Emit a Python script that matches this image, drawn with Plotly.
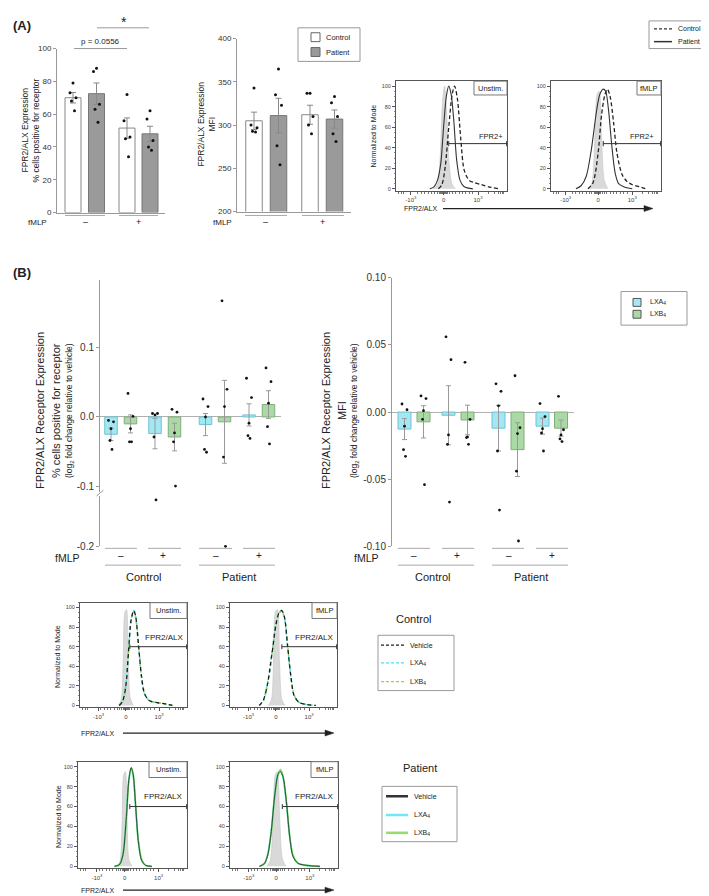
import plotly.graph_objects as go

W, H = 709, 896
FONT = "Liberation Sans, Arial, sans-serif"

# ======================= DATA =======================
FMLP_LABELS = ["–", "+"]
GROUP_LABELS = ["Control", "Patient"]
TREAT_LABELS = ["LXA<sub>4</sub>", "LXB<sub>4</sub>"]

# (A) left: % cells positive for receptor  (index: fMLP -, fMLP +)
A_PCT_CONTROL_MEAN = [70.0, 51.5]
A_PCT_CONTROL_SEM = [3.2, 6.2]
A_PCT_PATIENT_MEAN = [72.5, 48.0]
A_PCT_PATIENT_SEM = [6.5, 4.6]
A_PCT_CONTROL_PTS = [[79, 73, 70, 68, 62], [72, 56, 46, 45, 34]]
A_PCT_PATIENT_PTS = [[88, 86, 66, 63, 55], [62, 57, 44, 40, 38]]
A_PCT_TICKS = [0, 20, 40, 60, 80, 100]
A_PCT_PVALUE = "p = 0.0556"
A_PCT_STAR = "*"

# (A) middle: MFI
A_MFI_CONTROL_MEAN = [305, 312]
A_MFI_CONTROL_SEM = [10, 11]
A_MFI_PATIENT_MEAN = [311, 307]
A_MFI_PATIENT_SEM = [20, 10.5]
A_MFI_CONTROL_PTS = [[343, 300, 297, 293, 292], [337, 337, 310, 300, 290]]
A_MFI_PATIENT_PTS = [[365, 335, 323, 276, 254], [333, 326, 310, 290, 281]]
A_MFI_TICKS = [200, 250, 300, 350, 400]

# (B) order: Control fMLP-, Control fMLP+, Patient fMLP-, Patient fMLP+
B_PCT_LXA_MEAN = [-0.025, -0.024, -0.011, 0.003]
B_PCT_LXA_SEM = [0.009, 0.022, 0.016, 0.016]
B_PCT_LXB_MEAN = [-0.010, -0.029, -0.007, 0.018]
B_PCT_LXB_SEM = [0.013, 0.020, 0.060, 0.020]
B_PCT_LXA_PTS = [[-0.005, -0.007, -0.017, -0.034, -0.047],
                 [0.005, 0.005, 0.003, -0.029, -0.117],
                 [0.026, 0.015, 0.000, -0.047, -0.051],
                 [0.056, 0.028, -0.009, -0.027, -0.031]]
B_PCT_LXB_PTS = [[0.034, 0.001, -0.017, -0.036, -0.036],
                 [0.011, 0.007, -0.023, -0.036, -0.100],
                 [0.168, 0.040, 0.015, -0.058, -0.200],
                 [0.071, 0.051, 0.020, -0.014, -0.039]]
B_PCT_TICKS_UPPER = [-0.1, 0.0, 0.1, 0.2]
B_PCT_TICKS_LOWER = [-0.2]

B_MFI_LXA_MEAN = [-0.0127, -0.0024, -0.0120, -0.0105]
B_MFI_LXA_SEM = [0.0078, 0.0220, 0.0170, 0.0060]
B_MFI_LXB_MEAN = [-0.0073, -0.0059, -0.0280, -0.0120]
B_MFI_LXB_SEM = [0.0120, 0.0110, 0.0200, 0.0060]
B_MFI_LXA_PTS = [[0.0060, 0.0017, -0.0105, -0.0280, -0.0330],
                 [0.0560, 0.0390, -0.0170, -0.0240, -0.0670],
                 [0.0210, 0.0154, 0.0046, -0.0290, -0.0730],
                 [0.0063, -0.0034, -0.0124, -0.0156, -0.0290]]
B_MFI_LXB_PTS = [[0.0120, 0.0100, 0.0010, -0.0054, -0.0541],
                 [0.0370, -0.0054, -0.0185, -0.0190, -0.0240],
                 [0.0270, -0.0117, -0.0160, -0.0440, -0.0960],
                 [0.0117, -0.0132, -0.0170, -0.0200, -0.0220]]
B_MFI_TICKS = [-0.10, -0.05, 0.0, 0.05, 0.10]

# Histograms (x in biexponential display units: 0 -> 0, 1 -> 10^3 ; y = % of mode)
HIST_Y_TICKS = [0, 20, 40, 60, 80, 100]
HIST_X_TICKTEXT = ["-10<sup>3</sup>", "0", "10<sup>3</sup>"]

HA_UNSTIM_ISO_X = [-0.3, -0.18, -0.1, -0.03, 0.03, 0.09, 0.16, 0.25, 0.35]
HA_UNSTIM_ISO_Y = [0, 4, 30, 85, 100, 75, 25, 4, 0]
HA_UNSTIM_PAT_X = [-0.4, -0.28, -0.18, -0.08, 0.0, 0.08, 0.15, 0.22, 0.3, 0.38, 0.48, 0.6, 0.85]
HA_UNSTIM_PAT_Y = [0, 2, 8, 25, 60, 90, 100, 92, 65, 28, 8, 2, 0]
HA_UNSTIM_CTL_X = [-0.15, -0.05, 0.05, 0.15, 0.25, 0.32, 0.4, 0.5, 0.6, 0.75, 0.9, 1.1, 1.3, 1.6]
HA_UNSTIM_CTL_Y = [0, 4, 22, 60, 92, 100, 88, 48, 18, 8, 6, 4, 2, 0]

HA_FMLP_ISO_X = [-0.28, -0.18, -0.1, -0.03, 0.03, 0.1, 0.18, 0.28]
HA_FMLP_ISO_Y = [0, 6, 45, 92, 95, 50, 8, 0]
HA_FMLP_PAT_X = [-0.65, -0.5, -0.35, -0.2, -0.05, 0.05, 0.15, 0.22, 0.3, 0.4, 0.5, 0.6, 0.75, 1.0]
HA_FMLP_PAT_Y = [0, 3, 12, 38, 75, 92, 97, 95, 78, 42, 15, 5, 2, 0]
HA_FMLP_CTL_X = [-0.3, -0.15, 0.0, 0.1, 0.2, 0.27, 0.35, 0.45, 0.55, 0.7, 0.85, 1.0, 1.2, 1.4]
HA_FMLP_CTL_Y = [0, 6, 35, 72, 92, 97, 90, 65, 35, 14, 7, 4, 2, 0]

HC_UNSTIM_ISO_X = [-0.22, -0.14, -0.08, -0.03, 0.02, 0.07, 0.13, 0.22]
HC_UNSTIM_ISO_Y = [0, 6, 45, 95, 98, 50, 8, 0]
HC_UNSTIM_X = [-0.2, -0.1, 0.0, 0.08, 0.16, 0.24, 0.3, 0.38, 0.47, 0.56, 0.7, 0.9, 1.1, 1.4]
HC_UNSTIM_VEH_Y = [0, 4, 20, 55, 88, 97, 90, 62, 30, 12, 5, 3, 2, 0]
HC_UNSTIM_LXA_Y = [0, 4, 21, 56, 89, 97, 89, 61, 29, 12, 5, 3, 2, 0]
HC_UNSTIM_LXB_Y = [0, 3, 20, 54, 87, 96, 90, 62, 30, 13, 5, 3, 2, 0]

HC_FMLP_ISO_X = [-0.22, -0.13, -0.07, -0.01, 0.05, 0.11, 0.18, 0.27]
HC_FMLP_ISO_Y = [0, 6, 45, 96, 98, 45, 6, 0]
HC_FMLP_X = [-0.5, -0.38, -0.25, -0.12, 0.0, 0.1, 0.18, 0.26, 0.35, 0.45, 0.55, 0.7, 0.9, 1.2]
HC_FMLP_VEH_Y = [0, 5, 22, 52, 82, 95, 97, 90, 62, 30, 10, 3, 1, 0]
HC_FMLP_LXA_Y = [0, 5, 23, 53, 83, 95, 96, 89, 61, 30, 10, 3, 1, 0]
HC_FMLP_LXB_Y = [0, 4, 21, 51, 81, 94, 97, 90, 63, 31, 11, 3, 1, 0]

HP_UNSTIM_ISO_X = [-0.22, -0.14, -0.08, -0.03, 0.02, 0.07, 0.13, 0.22]
HP_UNSTIM_ISO_Y = [0, 5, 40, 92, 95, 45, 6, 0]
HP_UNSTIM_X = [-0.3, -0.15, -0.05, 0.05, 0.12, 0.19, 0.25, 0.32, 0.4, 0.5, 0.62, 0.8]
HP_UNSTIM_VEH_Y = [0, 2, 12, 50, 86, 99, 92, 62, 26, 6, 1, 0]
HP_UNSTIM_LXA_Y = [0, 2, 13, 51, 87, 98, 91, 61, 25, 6, 1, 0]
HP_UNSTIM_LXB_Y = [0, 2, 12, 49, 85, 99, 93, 63, 27, 7, 1, 0]

HP_FMLP_ISO_X = [-0.28, -0.18, -0.1, -0.03, 0.03, 0.1, 0.18, 0.28]
HP_FMLP_ISO_Y = [0, 6, 45, 92, 95, 50, 8, 0]
HP_FMLP_X = [-0.5, -0.35, -0.25, -0.15, -0.05, 0.05, 0.12, 0.2, 0.3, 0.4, 0.5, 0.65, 0.9, 1.3]
HP_FMLP_VEH_Y = [0, 3, 12, 35, 70, 92, 95, 90, 65, 30, 10, 3, 1, 0]
HP_FMLP_LXA_Y = [0, 3, 13, 36, 71, 93, 96, 89, 64, 29, 10, 3, 1, 0]
HP_FMLP_LXB_Y = [0, 3, 12, 34, 69, 91, 97, 91, 66, 31, 11, 3, 1, 0]

# ======================= LAYOUT HELPERS =======================
def fx(x):
    return x / W


def fy(y):
    return 1 - y / H


annotations, shapes = [], []
layout = dict(width=W, height=H, autosize=False, margin=dict(l=0, r=0, t=0, b=0),
              paper_bgcolor="white", plot_bgcolor="rgba(0,0,0,0)", showlegend=False,
              font=dict(family=FONT, color="#222"))
fig = go.Figure()


def text(x, y, s, size=9, xanchor="center", yanchor="middle", color="#222", angle=0):
    annotations.append(dict(x=fx(x), y=fy(y), xref="paper", yref="paper", text=s, showarrow=False,
                            font=dict(family=FONT, size=size, color=color), xanchor=xanchor,
                            yanchor=yanchor, textangle=angle))


def line(x0, y0, x1, y1, color="#999", width=1, dash="solid"):
    shapes.append(dict(type="line", xref="paper", yref="paper", x0=fx(x0), y0=fy(y0), x1=fx(x1),
                       y1=fy(y1), line=dict(color=color, width=width, dash=dash)))


def rect(x0, y0, x1, y1, color="#999", fill="white", width=1):
    shapes.append(dict(type="rect", xref="paper", yref="paper", x0=fx(x0), y0=fy(y0), x1=fx(x1),
                       y1=fy(y1), line=dict(color=color, width=width), fillcolor=fill))


def arrow(x0, x1, y):
    shapes.append(dict(type="line", xref="paper", yref="paper", x0=fx(x0), y0=fy(y), x1=fx(x1 - 6),
                       y1=fy(y), line=dict(color="#222", width=1.2)))
    shapes.append(dict(type="path", xref="paper", yref="paper",
                       path=f"M {fx(x1)} {fy(y)} L {fx(x1 - 9)} {fy(y - 3)} L {fx(x1 - 9)} {fy(y + 3)} Z",
                       fillcolor="#222", line=dict(color="#222", width=0.5)))


ax_n = [0]


def new_axes(xpx, ypx, xrange, yrange, xopt=None, yopt=None):
    ax_n[0] += 1
    n = ax_n[0]
    sx = "" if n == 1 else str(n)
    xid, yid = "x" + sx, "y" + sx
    base = dict(showgrid=False, zeroline=False, showline=False, ticks="", showticklabels=False,
                fixedrange=True)
    xa = dict(base, domain=[fx(xpx[0]), fx(xpx[1])], range=xrange, anchor=yid)
    ya = dict(base, domain=[fy(ypx[1]), fy(ypx[0])], range=yrange, anchor=xid)
    if xopt:
        xa.update(xopt)
    if yopt:
        ya.update(yopt)
    layout["xaxis" + sx] = xa
    layout["yaxis" + sx] = ya
    return xid, yid


def add_bars(xid, yid, centers, means, sems, width, fill, edge, errcolor="#888", capw=3):
    fig.add_trace(go.Bar(x=centers, y=means, width=width, xaxis=xid, yaxis=yid,
                         marker=dict(color=fill, line=dict(color=edge, width=1)),
                         error_y=dict(type="data", array=sems, color=errcolor, thickness=1, width=capw),
                         hoverinfo="skip"))


def add_dots(xid, yid, centers, pts, jit, keep=lambda v: True, size=3):
    xs, ys = [], []
    for c, p in zip(centers, pts):
        for j, v in enumerate(p):
            if keep(v):
                xs.append(c + jit[j % len(jit)])
                ys.append(v)
    fig.add_trace(go.Scatter(x=xs, y=ys, mode="markers", xaxis=xid, yaxis=yid, hoverinfo="skip",
                             cliponaxis=False, marker=dict(size=size, color="#111")))


YAX = dict(showline=True, linecolor="#999", linewidth=1, ticks="outside", ticklen=3,
           tickcolor="#999", showticklabels=True)

# ======================= PANEL A: bar charts =======================
text(3, 13, "<b>(A)</b>", size=13, xanchor="left")

# A left
xa1, ya1 = new_axes((49, 157), (36, 202), [49, 157], [0, 100],
                    xopt=dict(showline=True, linecolor="#999", linewidth=1),
                    yopt=dict(YAX, tickvals=A_PCT_TICKS, tickfont=dict(size=8, color="#333")))
A1_CTL_X, A1_PAT_X = [65, 119], [88.5, 142]
add_bars(xa1, ya1, A1_CTL_X, A_PCT_CONTROL_MEAN, A_PCT_CONTROL_SEM, 16, "white", "#888")
add_bars(xa1, ya1, A1_PAT_X, A_PCT_PATIENT_MEAN, A_PCT_PATIENT_SEM, 16, "#9a9a9a", "#777")
JIT_A = [0, -3, 3, -1.5, 1.5]
add_dots(xa1, ya1, A1_CTL_X, A_PCT_CONTROL_PTS, JIT_A)
add_dots(xa1, ya1, A1_PAT_X, A_PCT_PATIENT_PTS, JIT_A)
text(17, 119, "FPR2/ALX Expression", size=8.5, angle=-90)
text(28, 119, "% cells positive for receptor", size=8.5, angle=-90)
line(66, 36, 119, 36)
text(92.5, 29, A_PCT_PVALUE, size=8)
line(89, 15, 141, 15)
text(116, 9, A_PCT_STAR, size=14)
line(57, 205, 97, 205, color="#aaa")
line(111, 205, 150, 205, color="#aaa")
text(29, 212, "fMLP", size=8)
text(77, 212, FMLP_LABELS[0], size=9)
text(130, 212, FMLP_LABELS[1], size=9)

# A middle
xa2, ya2 = new_axes((229, 343), (26, 201), [229, 343], [200, 400],
                    xopt=dict(showline=True, linecolor="#999", linewidth=1),
                    yopt=dict(YAX, tickvals=A_MFI_TICKS, tickfont=dict(size=8, color="#333")))
A2_CTL_X, A2_PAT_X = [246, 302], [270.5, 326.5]
add_bars(xa2, ya2, A2_CTL_X, A_MFI_CONTROL_MEAN, A_MFI_CONTROL_SEM, 16.5, "white", "#888")
add_bars(xa2, ya2, A2_PAT_X, A_MFI_PATIENT_MEAN, A_MFI_PATIENT_SEM, 16.5, "#9a9a9a", "#777")
add_dots(xa2, ya2, A2_CTL_X, A_MFI_CONTROL_PTS, JIT_A)
add_dots(xa2, ya2, A2_PAT_X, A_MFI_PATIENT_PTS, JIT_A)
text(193, 113, "FPR2/ALX Expression", size=8.5, angle=-90)
text(204, 113, "MFI", size=8.5, angle=-90)
line(237, 205, 279, 205, color="#aaa")
line(294, 205, 336, 205, color="#aaa")
text(215, 212, "fMLP", size=8)
text(257, 212, FMLP_LABELS[0], size=9)
text(314, 212, FMLP_LABELS[1], size=9)
# legend Control / Patient
rect(290, 15, 352, 49, color="#999")
rect(303, 20, 312, 29, color="#666", fill="white")
rect(303, 35, 312, 44, color="#666", fill="#9a9a9a")
text(316, 24.5, GROUP_LABELS[0], size=7.5, xanchor="left")
text(316, 39.5, GROUP_LABELS[1], size=7.5, xanchor="left")

# ======================= HISTOGRAM helper =======================
HX_RANGE = [-1.38, 1.84]
MINOR_X = [-1.3, -1.22, -1.15, -0.75, -0.65, -0.55, -0.45, -0.35, -0.25, -0.18, -0.12, -0.08,
           -0.05, -0.03, -0.01, 0.01, 0.03, 0.05, 0.08, 0.12, 0.18, 0.25, 0.35, 0.45, 0.55,
           0.65, 0.75, 0.85, 1.3, 1.48, 1.58, 1.65, 1.7, 1.74]


def hist_axes(xpx, ypx, yrange, negtick):
    return new_axes(xpx, ypx, HX_RANGE, yrange,
                    xopt=dict(showline=True, mirror=True, linecolor="#555", linewidth=1,
                              ticks="outside", ticklen=3, tickcolor="#555", showticklabels=True,
                              tickvals=[negtick, 0, 1], ticktext=HIST_X_TICKTEXT,
                              tickfont=dict(size=6, color="#444"),
                              minor=dict(ticks="outside", ticklen=2, tickcolor="#777",
                                         tickmode="array", tickvals=MINOR_X)),
                    yopt=dict(showline=True, mirror=True, linecolor="#555", linewidth=1,
                              ticks="outside", ticklen=3, tickcolor="#555", showticklabels=True,
                              tickvals=HIST_Y_TICKS, tickfont=dict(size=5.5, color="#444"),
                              minor=dict(ticks="outside", ticklen=1.5, tickcolor="#888",
                                         dtick=5)))


def iso(xid, yid, xs, ys):
    fig.add_trace(go.Scatter(x=xs, y=ys, mode="lines", xaxis=xid, yaxis=yid, fill="tozeroy",
                             fillcolor="rgba(210,210,210,0.85)", hoverinfo="skip",
                             line=dict(color="#c4c4c4", width=0.6, shape="spline", smoothing=0.8)))


def curve(xid, yid, xs, ys, color, width=1.2, dash="solid"):
    fig.add_trace(go.Scatter(x=xs, y=ys, mode="lines", xaxis=xid, yaxis=yid, hoverinfo="skip",
                             line=dict(color=color, width=width, dash=dash, shape="spline",
                                       smoothing=0.8)))


def gate(xid, yid, x0, yv, h=2.5):
    x1 = HX_RANGE[1]
    for (a, b, c, d) in [(x0, yv, x1, yv), (x0, yv - h, x0, yv + h), (x1 - 0.01, yv - h, x1 - 0.01, yv + h)]:
        shapes.append(dict(type="line", xref=xid, yref=yid, x0=a, y0=b, x1=c, y1=d,
                           line=dict(color="#333", width=1)))


def label_box(x0, y0, x1, y1, s):
    rect(x0, y0, x1, y1, color="#777")
    text((x0 + x1) / 2, (y0 + y1) / 2, s, size=7.5)


# ======================= PANEL A: histograms =======================
hA1 = hist_axes((388, 499), (69, 180), [-1.9, 104.8], -0.95)
iso(*hA1, HA_UNSTIM_ISO_X, HA_UNSTIM_ISO_Y)
curve(*hA1, HA_UNSTIM_CTL_X, HA_UNSTIM_CTL_Y, "#222", 1.3, "4px,2.5px")
curve(*hA1, HA_UNSTIM_PAT_X, HA_UNSTIM_PAT_Y, "#333", 1.1)
gate(*hA1, 0.15, 44)
text(483, 125, "FPR2+", size=7.5)
label_box(466, 69, 499, 83, "Unstim.")

hA2 = hist_axes((543, 653), (69, 180), [-1.9, 104.8], -0.95)
iso(*hA2, HA_FMLP_ISO_X, HA_FMLP_ISO_Y)
curve(*hA2, HA_FMLP_CTL_X, HA_FMLP_CTL_Y, "#222", 1.3, "4px,2.5px")
curve(*hA2, HA_FMLP_PAT_X, HA_FMLP_PAT_Y, "#333", 1.1)
gate(*hA2, 0.15, 44)
text(634, 125, "FPR2+", size=7.5)
label_box(629, 69, 653, 83, "fMLP")

text(365, 125, "Normalized to Mode", size=7, angle=-90)
text(394, 198, "FPR2/ALX", size=7, xanchor="left")
arrow(435, 645, 198)
# legend
rect(641, 8, 706, 36, color="#999")
line(646, 16, 664, 16, color="#333", width=1.2, dash="3px,2px")
line(646, 29, 664, 29, color="#333", width=1.5)
text(668, 16, "Control", size=7, xanchor="left")
text(668, 29, "Patient", size=7, xanchor="left")

# ======================= PANEL B: bar charts =======================
text(3, 263, "<b>(B)</b>", size=13, xanchor="left")
CYAN_FILL, CYAN_EDGE = "#a3e7f3", "#6fc3d3"
GREEN_FILL, GREEN_EDGE = "#abd9a5", "#80ae7b"
JIT_B = [-2.5, 2.5, 0, -1, 1]

# B left (broken axis)
B1_LXA_X = [103, 147, 197.5, 241]
B1_LXB_X = [122.5, 166.5, 216.5, 260.5]
BREAK = -0.108
xb1, yb1 = new_axes((92, 273), (270, 485), [92, 273], [-0.1086, 0.1986],
                    yopt=dict(YAX, tickvals=B_PCT_TICKS_UPPER,
                              ticktext=[f"{v:.1f}" for v in B_PCT_TICKS_UPPER],
                              tickfont=dict(size=10, color="#333"), zeroline=True,
                              zerolinecolor="#b0b0b0", zerolinewidth=1))
xb1l, yb1l = new_axes((92, 273), (489, 540), [92, 273], [-0.2, -0.11],
                      yopt=dict(YAX, tickvals=B_PCT_TICKS_LOWER,
                                ticktext=[f"{v:.1f}" for v in B_PCT_TICKS_LOWER],
                                tickfont=dict(size=10, color="#333")))
add_bars(xb1, yb1, B1_LXA_X, B_PCT_LXA_MEAN, B_PCT_LXA_SEM, 12.5, CYAN_FILL, CYAN_EDGE, "#999", 2.5)
add_bars(xb1, yb1, B1_LXB_X, B_PCT_LXB_MEAN, B_PCT_LXB_SEM, 12.5, GREEN_FILL, GREEN_EDGE, "#999", 2.5)
add_dots(xb1, yb1, B1_LXA_X, B_PCT_LXA_PTS, JIT_B, keep=lambda v: v >= BREAK, size=2.8)
add_dots(xb1, yb1, B1_LXB_X, B_PCT_LXB_PTS, JIT_B, keep=lambda v: v >= BREAK, size=2.8)
add_dots(xb1l, yb1l, B1_LXA_X, B_PCT_LXA_PTS, JIT_B, keep=lambda v: v < BREAK, size=2.8)
add_dots(xb1l, yb1l, B1_LXB_X, B_PCT_LXB_PTS, JIT_B, keep=lambda v: v < BREAK, size=2.8)
line(88.5, 489, 95.5, 483, color="#999")
text(32, 403, "FPR2/ALX Receptor Expression", size=11, angle=-90)
text(48, 403, "% cells positive for receptor", size=11, angle=-90)
text(61, 403, "(log<sub>2</sub> fold change relative to vehicle)", size=8.5, angle=-90)

# B right
B2_LXA_X = [396.5, 440.5, 490.5, 534.5]
B2_LXB_X = [415.5, 459.5, 509.5, 553]
xb2, yb2 = new_axes((384, 566), (268, 540), [384, 566], [-0.1, 0.1],
                    yopt=dict(YAX, tickvals=B_MFI_TICKS,
                              ticktext=[f"{v:.2f}" for v in B_MFI_TICKS],
                              tickfont=dict(size=10, color="#333"), zeroline=True,
                              zerolinecolor="#b0b0b0", zerolinewidth=1))
add_bars(xb2, yb2, B2_LXA_X, B_MFI_LXA_MEAN, B_MFI_LXA_SEM, 13, CYAN_FILL, CYAN_EDGE, "#999", 2.5)
add_bars(xb2, yb2, B2_LXB_X, B_MFI_LXB_MEAN, B_MFI_LXB_SEM, 13, GREEN_FILL, GREEN_EDGE, "#999", 2.5)
add_dots(xb2, yb2, B2_LXA_X, B_MFI_LXA_PTS, JIT_B, size=2.8)
add_dots(xb2, yb2, B2_LXB_X, B_MFI_LXB_PTS, JIT_B, size=2.8)
text(318, 403, "FPR2/ALX Receptor Expression", size=11, angle=-90)
text(334, 403, "MFI", size=11, angle=-90)
text(346, 403, "(log<sub>2</sub> fold change relative to vehicle)", size=8.5, angle=-90)

# B group labels
for (segs, fm_lbl_x, grp_x, fmlp_x) in [
    ([(97, 129), (140, 173), (191, 224), (235, 267)], [113, 155, 208, 251], [135, 231], 60),
    ([(390, 422), (434, 466), (484, 516), (528, 560)], [406, 449, 501, 544], [425, 523], 358),
]:
    for (a, b) in segs:
        line(a, 542, b, 542, color="#aaa")
    line(segs[0][0], 559, segs[1][1], 559, color="#aaa")
    line(segs[2][0], 559, segs[3][1], 559, color="#aaa")
    for i, xx in enumerate(fm_lbl_x):
        text(xx, 549, FMLP_LABELS[i % 2], size=10)
    text(grp_x[0], 571, GROUP_LABELS[0], size=11)
    text(grp_x[1], 571, GROUP_LABELS[1], size=11)
    text(fmlp_x, 552, "fMLP", size=10.5)

# legend LXA4 / LXB4
rect(613, 282, 679, 316, color="#999")
rect(625, 289, 633, 297, color="#555", fill=CYAN_FILL)
rect(625, 301, 633, 309, color="#555", fill=GREEN_FILL)
text(640, 293, TREAT_LABELS[0], size=7, xanchor="left")
text(640, 305, TREAT_LABELS[1], size=7, xanchor="left")

# ======================= PANEL B: histograms =======================
VEH_C, LXA_C, LXB_C = "#1e1e1e", "#3fe3f2", "#8fd94a"

hC1 = hist_axes((72, 179), (597, 703), [-2, 105], -0.82)
iso(*hC1, HC_UNSTIM_ISO_X, HC_UNSTIM_ISO_Y)
curve(*hC1, HC_UNSTIM_X, HC_UNSTIM_LXA_Y, LXA_C, 1.5, "3px,3px")
curve(*hC1, HC_UNSTIM_X, HC_UNSTIM_LXB_Y, LXB_C, 1.5, "2px,4px")
curve(*hC1, HC_UNSTIM_X, HC_UNSTIM_VEH_Y, VEH_C, 1.3, "4px,3px")
gate(*hC1, 0.12, 60)
text(156, 632, "FPR2/ALX", size=8)
label_box(142, 597, 179, 613, "Unstim.")

hC2 = hist_axes((222, 329), (597, 703), [-2, 105], -0.82)
iso(*hC2, HC_FMLP_ISO_X, HC_FMLP_ISO_Y)
curve(*hC2, HC_FMLP_X, HC_FMLP_LXA_Y, LXA_C, 1.5, "3px,3px")
curve(*hC2, HC_FMLP_X, HC_FMLP_LXB_Y, LXB_C, 1.5, "2px,4px")
curve(*hC2, HC_FMLP_X, HC_FMLP_VEH_Y, VEH_C, 1.3, "4px,3px")
gate(*hC2, 0.18, 60)
text(306, 632, "FPR2/ALX", size=8)
label_box(304, 597, 329, 613, "fMLP")

text(50, 652, "Normalized to Mode", size=7, angle=-90)
text(71, 729, "FPR2/ALX", size=7, xanchor="left")
arrow(115, 326, 729)

text(405, 614, GROUP_LABELS[0], size=11)
rect(370, 630, 446, 686, color="#999")
line(373, 640, 397, 640, color=VEH_C, width=1.3, dash="3px,2px")
line(373, 658, 397, 658, color=LXA_C, width=1.3, dash="3px,2px")
line(373, 677, 397, 677, color=LXB_C, width=1.3, dash="3px,2px")
text(400, 640, "Vehicle", size=7, xanchor="left")
text(400, 658, TREAT_LABELS[0], size=7, xanchor="left")
text(400, 677, TREAT_LABELS[1], size=7, xanchor="left")

hP1 = hist_axes((70, 179), (758, 866), [-2, 105], -0.82)
iso(*hP1, HP_UNSTIM_ISO_X, HP_UNSTIM_ISO_Y)
curve(*hP1, HP_UNSTIM_X, HP_UNSTIM_LXA_Y, LXA_C, 1.6)
curve(*hP1, HP_UNSTIM_X, HP_UNSTIM_LXB_Y, LXB_C, 1.6)
curve(*hP1, HP_UNSTIM_X, HP_UNSTIM_VEH_Y, "#1f4f4a", 1.0)
gate(*hP1, 0.15, 60)
text(155, 793, "FPR2/ALX", size=8)
label_box(141, 758, 179, 774, "Unstim.")

hP2 = hist_axes((222, 330), (758, 866), [-2, 105], -0.82)
iso(*hP2, HP_FMLP_ISO_X, HP_FMLP_ISO_Y)
curve(*hP2, HP_FMLP_X, HP_FMLP_LXA_Y, LXA_C, 1.6)
curve(*hP2, HP_FMLP_X, HP_FMLP_LXB_Y, LXB_C, 1.6)
curve(*hP2, HP_FMLP_X, HP_FMLP_VEH_Y, "#1f4f4a", 1.0)
gate(*hP2, 0.18, 60)
text(306, 793, "FPR2/ALX", size=8)
label_box(303, 758, 330, 774, "fMLP")

text(50, 814, "Normalized to Mode", size=7, angle=-90)
text(71, 888, "FPR2/ALX", size=7, xanchor="left")
arrow(115, 326, 888)

text(412, 764, GROUP_LABELS[1], size=11)
rect(374, 783, 449, 839, color="#999")
line(378, 793, 400, 793, color="#333", width=2.5)
line(378, 812, 400, 812, color="#6ee8f5", width=2.5)
line(378, 830, 400, 830, color="#98dc6a", width=2.5)
text(404, 793, "Vehicle", size=7, xanchor="left")
text(404, 812, TREAT_LABELS[0], size=7, xanchor="left")
text(404, 830, TREAT_LABELS[1], size=7, xanchor="left")

layout["annotations"] = annotations
layout["shapes"] = shapes
fig.update_layout(**layout)
fig.write_html("out.html", config={"displayModeBar": False})
